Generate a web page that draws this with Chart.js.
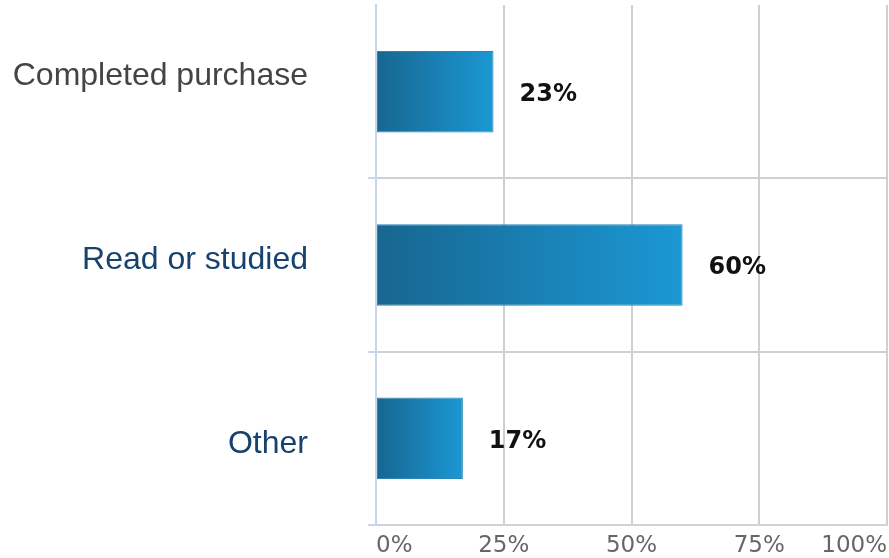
<!DOCTYPE html>
<html>
<head>
<meta charset="utf-8">
<script src="https://cdn.jsdelivr.net/npm/chart.js@4"></script>
<style>
    html, body { margin: 0; padding: 0; background: #fff; }
    #wrap { width: 889px; height: 558px; }
</style>
</head>
<body>
<div id="wrap"><canvas id="chart"></canvas></div>
<script>
// Dados
const categories = ['Completed purchase', 'Read or studied', 'Other'];
const values = [23, 60, 17];
const xTicks = [0, 25, 50, 75, 100];

const labelColors = ['#444444', '#17426e', '#17426e'];
// deslocamento vertical (px) de cada rótulo em relação ao centro da barra
const labelShift = [-15, -5, 6];

// Gradiente por barra: escuro à esquerda, claro à direita
const barGradient = (ctx) => {
    const chart = ctx.chart;
    if (!chart.chartArea || ctx.dataIndex === undefined) return '#1a80b5';
    const xs = chart.scales.x;
    const x0 = xs.getPixelForValue(0);
    const x1 = xs.getPixelForValue(values[ctx.dataIndex]);
    const g = chart.ctx.createLinearGradient(x0, 0, x1, 0);
    g.addColorStop(0, '#176690');
    g.addColorStop(1, '#1b98d4');
    return g;
};

// Rótulos de valor ao lado de cada barra
const valueLabels = {
    id: 'valueLabels',
    afterDatasetsDraw: (chart) => {
        const { ctx } = chart;
        const meta = chart.getDatasetMeta(0);
        ctx.save();
        ctx.font = 'bold 24px "DejaVu Sans"';
        ctx.fillStyle = '#111111';
        ctx.textAlign = 'left';
        ctx.textBaseline = 'middle';
        meta.data.forEach((bar, i) => {
            ctx.fillText(values[i] + '%', bar.x + 26, bar.y + 3);
        });
        ctx.restore();
    }
};

new Chart(document.getElementById('chart'), {
    type: 'bar',
    plugins: [valueLabels],
    data: {
        labels: categories,
        datasets: [{
            data: values,
            backgroundColor: barGradient,
            borderColor: '#2a86b8',
            borderWidth: 1,
            borderSkipped: false,
            barPercentage: 0.47,
            categoryPercentage: 1
        }]
    },
    options: {
        indexAxis: 'y',
        responsive: true,
        maintainAspectRatio: false,
        animation: false,
        layout: { padding: { top: 5, right: 2, left: 0, bottom: 0 } },
        plugins: {
            legend: { display: false },
            tooltip: { enabled: false }
        },
        scales: {
            x: {
                min: 0,
                max: 100,
                afterFit: (scale) => {
                    scale.height = 33;
                    scale.paddingLeft = 0;
                    scale.paddingRight = 0;
                },
                afterBuildTicks: (scale) => { scale.ticks = xTicks.map(v => ({ value: v })); },
                grid: {
                    color: (c) => c.index === 0 ? 'rgba(0,0,0,0)' : '#cfcfcf',
                    lineWidth: 2,
                    drawTicks: false
                },
                border: { color: '#cfd3d8', width: 2 },
                ticks: {
                    align: 'inner',
                    padding: 7,
                    color: '#666666',
                    font: { family: '"DejaVu Sans"', size: 23 },
                    callback: (v) => v + '%'
                }
            },
            y: {
                afterFit: (scale) => {
                    scale.width = 376;
                    // o padding dos rótulos não deve encolher a área do gráfico
                    scale.paddingTop = 0;
                    scale.paddingBottom = 0;
                },
                grid: {
                    color: (c) => c.index === 0 ? 'rgba(0,0,0,0)' : '#cfcfcf',
                    tickColor: (c) => c.index === 0 ? 'rgba(0,0,0,0)' : '#c5d7ea',
                    lineWidth: 2,
                    tickLength: 8
                },
                border: { color: '#c5d7ea', width: 2 },
                ticks: {
                    padding: 60,
                    color: (c) => labelColors[c.index],
                    // linha vazia com altura = 2x deslocamento move o rótulo
                    font: (c) => ({
                        family: '"Liberation Sans"',
                        size: 32,
                        lineHeight: Math.max(1, Math.abs(labelShift[c.index] || 0) * 2) + 'px'
                    }),
                    callback: (v, i) => {
                        const s = labelShift[i];
                        if (!s) return categories[i];
                        return s < 0 ? [categories[i], ''] : ['', categories[i]];
                    }
                }
            }
        }
    }
});
</script>
</body>
</html>
